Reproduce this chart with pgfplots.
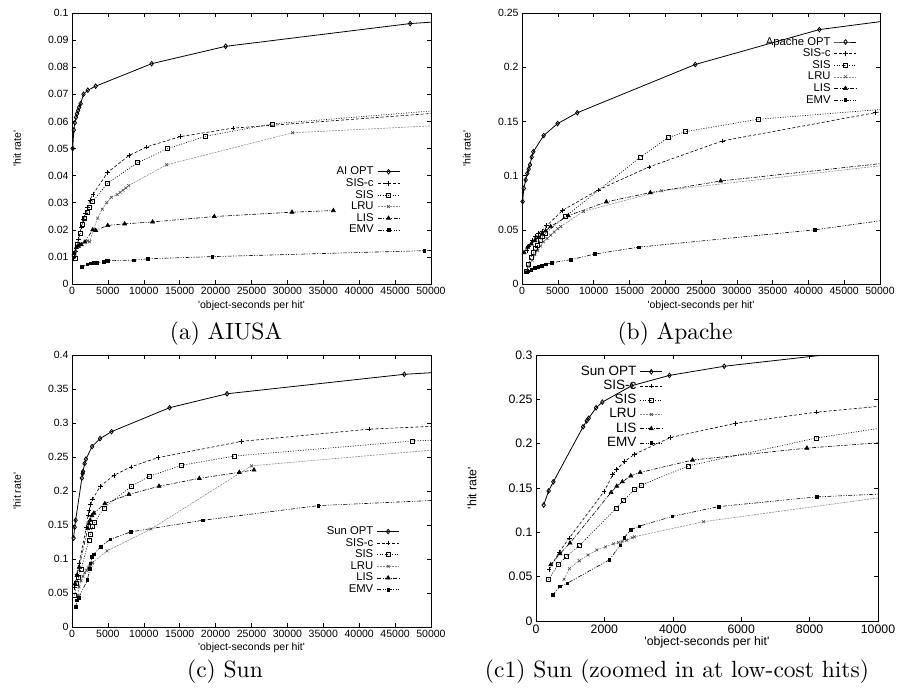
\documentclass[border=0pt]{standalone}
\usepackage{fontspec}
\setsansfont{Liberation Sans}
\newfontfamily\capfont{lmroman10-regular.otf}
\usepackage{pgfplots}
\pgfplotsset{compat=1.18}

\newcommand{\q}{\textquotesingle}

\pgfplotsset{
  gp/.style={
    scale only axis, anchor=south west,
    tick align=inside, major tick length=4pt,
    tick style={black, line width=0.5pt},
    axis line style={line width=0.8pt},
    scaled ticks=false,
    /pgf/number format/assume math mode=true,
    xticklabel={\pgfmathprintnumber[assume math mode=true, 1000 sep={}]{\tick}},
    yticklabel={\pgfmathprintnumber[assume math mode=true, fixed, precision=3]{\tick}},
    tick label style={font=\sffamily\fontsize{10.5}{12}\selectfont},
    label style={font=\sffamily\fontsize{10.5}{12}\selectfont},
    xlabel={\q object-seconds per hit\q},
    ylabel={\q hit rate\q},
    xlabel style={at={(axis description cs:0.5,-0.081)}, anchor=center},
    ylabel style={at={(axis description cs:-0.153,0.5)}, anchor=center},
    legend style={draw=none, fill=none, anchor=north east, inner sep=0pt,
      font=\sffamily\fontsize{11.3}{12}\selectfont, column sep=3pt, row sep=0.6pt,
      nodes={inner sep=0.5pt, text height=8pt, text depth=2pt}},
    legend cell align=right,
    legend plot pos=right,
    legend image code/.code={
      \draw[mark repeat=2, mark phase=2, ##1] plot coordinates {(0pt,0pt) (11pt,0pt) (22pt,0pt)};},
  },
  opt/.style={black, line width=0.8pt, mark=diamond, mark size=2.3pt, mark options={solid}},
  sisc/.style={black, line width=0.6pt, dash pattern=on 3pt off 2pt, mark=+, mark size=2.3pt, mark options={solid}},
  sis/.style={black, line width=0.6pt, dash pattern=on 1pt off 1.5pt, mark=square, mark size=2pt, mark options={solid}},
  lru/.style={black!45, line width=0.6pt, dash pattern=on 2pt off 1pt, mark=x, mark size=2pt, mark options={solid, black!70}},
  lis/.style={black, line width=0.6pt, dash pattern=on 4pt off 1.5pt on 1pt off 1.5pt, mark=triangle*, mark size=2.3pt, mark options={solid}},
  emv/.style={black, line width=0.6pt, dash pattern=on 4pt off 1.5pt on 1pt off 1.5pt on 1pt off 1.5pt, mark=square*, mark size=1.3pt, mark options={solid}},
}

\begin{document}
\begin{tikzpicture}
\useasboundingbox (0,0) rectangle (898pt,689pt);

% (a) AIUSA
\begin{axis}[gp, at={(72pt,405pt)}, width=359pt, height=271pt,
  xmin=0, xmax=50000, ymin=0, ymax=0.1,
  xtick={0,5000,10000,15000,20000,25000,30000,35000,40000,45000,50000},
  ytick={0,0.01,0.02,0.03,0.04,0.05,0.06,0.07,0.08,0.09,0.1},
  legend style={at={(0.914,0.435)}}]
\addplot[opt] table {
100 0.050
250 0.0568
400 0.0595
550 0.0615
700 0.0628
850 0.0640
1000 0.0652
1200 0.0665
1600 0.0700
2200 0.0715
3300 0.0730
11100 0.0813
21400 0.0877
47100 0.0961
55000 0.0975
};
\addplot[sisc] table {
280 0.0102
500 0.0120
900 0.0166
1300 0.0210
1600 0.0240
1900 0.0262
2200 0.0282
2500 0.0310
2900 0.0330
4970 0.0412
7940 0.0474
10400 0.0506
15090 0.0544
22400 0.0575
55000 0.0639
};
\addplot[sis] table {
460 0.0094
740 0.0145
1160 0.0188
1440 0.0222
1760 0.0243
2090 0.0264
2410 0.0283
2830 0.0304
4970 0.0372
9150 0.0448
13280 0.0499
18570 0.0545
27900 0.0591
55000 0.0649
};
\addplot[lru] table {
500 0.0120
900 0.0140
1300 0.0148
1800 0.0155
2200 0.0160
2460 0.0156
2970 0.0200
3570 0.0243
4220 0.0276
4830 0.0300
5480 0.0320
6300 0.0330
6700 0.0338
7100 0.0346
7500 0.0354
7890 0.0363
13180 0.0440
30730 0.0558
55000 0.0590
};
\addplot[lis] table {
280 0.0112
600 0.0135
900 0.0140
1300 0.0145
1800 0.0155
2880 0.0200
3300 0.0198
4970 0.0216
7330 0.0222
11230 0.0229
19820 0.0249
30640 0.0265
36400 0.0271
};
\addplot[emv] table {
1350 0.0063
2140 0.0072
2600 0.0076
3020 0.0079
3480 0.0079
4410 0.0082
4830 0.0085
5060 0.0086
8640 0.0088
10580 0.0093
19550 0.0101
49070 0.0123
55000 0.0127
};
\legend{AI OPT, SIS-c, SIS, LRU, LIS, EMV}
\end{axis}

% (b) Apache
\begin{axis}[gp, at={(522pt,405pt)}, width=358pt, height=271pt,
  xmin=0, xmax=50000, ymin=0, ymax=0.25,
  xtick={0,5000,10000,15000,20000,25000,30000,35000,40000,45000,50000},
  ytick={0,0.05,0.1,0.15,0.2,0.25},
  ylabel style={at={(axis description cs:-0.154,0.5)}},
  legend style={at={(0.936,0.914)}}]
\addplot[opt] table {
90 0.0761
250 0.0883
510 0.0960
740 0.1020
930 0.1060
1120 0.1100
1350 0.1170
1580 0.1220
3030 0.1370
4980 0.1480
7730 0.1580
24200 0.2025
41530 0.2347
55000 0.2463
};
\addplot[sisc] table {
700 0.031
900 0.035
1400 0.040
1900 0.044
2300 0.047
2800 0.049
3440 0.0537
5680 0.0680
10660 0.0868
17740 0.1080
27980 0.1320
49300 0.1580
55000 0.1640
};
\addplot[sis] table {
650 0.0117
930 0.0180
1260 0.0250
1600 0.0290
1910 0.0330
2200 0.0360
2500 0.0400
2900 0.0440
3300 0.0470
6000 0.0620
16530 0.1170
20390 0.1350
22810 0.1405
33010 0.1520
55000 0.1636
};
\addplot[lru] table {
600 0.0120
900 0.0160
1400 0.0220
1800 0.0270
2200 0.0310
2600 0.0350
3000 0.0390
3500 0.0420
4000 0.0450
4500 0.0480
5000 0.0510
5400 0.0530
8570 0.0669
19510 0.0860
55000 0.1128
};
\addplot[lis] table {
280 0.0290
800 0.0340
1300 0.0370
1800 0.0400
2300 0.0430
2800 0.0460
3300 0.0490
4000 0.0530
6470 0.0630
11780 0.0758
17920 0.0843
27750 0.0950
55000 0.1146
};
\addplot[emv] table {
650 0.0107
880 0.0117
1300 0.0130
1800 0.0150
2300 0.0160
2800 0.0170
3300 0.0180
4140 0.0196
6800 0.0224
10150 0.0276
16300 0.0340
40920 0.0500
55000 0.0629
};
\legend{Apache OPT, SIS-c, SIS, LRU, LIS, EMV}
\end{axis}

% Sun data
\pgfplotstableread{
x y
224 0.1308
370 0.1467
507 0.1570
1376 0.2190
1483 0.2257
1541 0.2287
1756 0.2404
1941 0.2469
2800 0.2654
3902 0.2770
5502 0.2873
13590 0.3225
21600 0.3430
46280 0.3716
55000 0.3770
}\sunopt
\pgfplotstableread{
x y
380 0.0578
683 0.0780
976 0.0938
1990 0.1460
2244 0.1650
2361 0.1710
2595 0.1800
2878 0.1880
3932 0.2070
5834 0.2230
8195 0.2355
11960 0.2490
23600 0.2730
41390 0.2910
55000 0.2973
}\sunsisc
\pgfplotstableread{
x y
361 0.0465
663 0.0643
888 0.0726
1268 0.0850
2341 0.1270
2556 0.1360
2878 0.1480
3093 0.1535
4459 0.1750
8200 0.2064
10750 0.2216
15220 0.2377
22670 0.2515
47440 0.2735
55000 0.2770
}\sunsis
\pgfplotstableread{
x y
820 0.0470
976 0.0590
1268 0.0680
1522 0.0745
1776 0.0800
2029 0.0836
2263 0.0870
2410 0.0885
2517 0.0896
2654 0.0910
2810 0.0940
2878 0.0950
4898 0.1120
10990 0.1440
25000 0.2370
55000 0.2646
}\sunlru
\pgfplotstableread{
x y
430 0.0635
702 0.0760
995 0.0880
2195 0.1450
2361 0.1520
2527 0.1570
2771 0.1637
3044 0.1675
4576 0.1815
7922 0.1950
12120 0.2070
17730 0.2186
23300 0.2275
25350 0.2310
}\sunlis
\pgfplotstableread{
x y
488 0.0295
702 0.0390
917 0.0427
2146 0.0690
2459 0.0854
2576 0.0938
2780 0.1030
3024 0.1070
3990 0.1180
5337 0.1290
8215 0.1400
18250 0.1570
34310 0.1785
55000 0.1884
}\sunemv

% (c) Sun
\begin{axis}[gp, at={(72pt,62pt)}, width=359pt, height=272pt,
  xmin=0, xmax=50000, ymin=0, ymax=0.4,
  xtick={0,5000,10000,15000,20000,25000,30000,35000,40000,45000,50000},
  ytick={0,0.05,0.1,0.15,0.2,0.25,0.3,0.35,0.4},
  xlabel style={at={(axis description cs:0.5,-0.077)}},
  legend style={at={(0.913,0.372)}}]
\addplot[opt] table {\sunopt};
\addplot[sisc] table {\sunsisc};
\addplot[sis] table {\sunsis};
\addplot[lru] table {\sunlru};
\addplot[lis] table {\sunlis};
\addplot[emv] table {\sunemv};
\legend{Sun OPT, SIS-c, SIS, LRU, LIS, EMV}
\end{axis}

% (c1) Sun zoomed
\begin{axis}[gp, at={(536pt,68pt)}, width=342pt, height=266pt,
  xmin=0, xmax=10000, ymin=0, ymax=0.3,
  xtick={0,2000,4000,6000,8000,10000},
  ytick={0,0.05,0.1,0.15,0.2,0.25,0.3},
  tick label style={font=\sffamily\fontsize{12.3}{14}\selectfont},
  label style={font=\sffamily\fontsize{12.3}{14}\selectfont},
  xlabel style={at={(axis description cs:0.5,-0.079)}},
  ylabel style={at={(axis description cs:-0.187,0.5)}},
  legend style={at={(0.371,0.962)}, font=\sffamily\fontsize{13.5}{14}\selectfont,
    nodes={inner sep=0.5pt, text height=9.5pt, text depth=2.5pt}, row sep=1.2pt}]
\addplot[opt] table {\sunopt};
\addplot[sisc] table {\sunsisc};
\addplot[sis] table {\sunsis};
\addplot[lru] table {\sunlru};
\addplot[lis] table {\sunlis};
\addplot[emv] table {\sunemv};
\legend{Sun OPT, SIS-c, SIS, LRU, LIS, EMV}
\end{axis}

\node[font=\capfont\fontsize{23.5}{26}\selectfont, anchor=base] at (226pt,349pt) {(a) AIUSA};
\node[font=\capfont\fontsize{23.5}{26}\selectfont, anchor=base] at (675pt,349pt) {(b) Apache};
\node[font=\capfont\fontsize{23.5}{26}\selectfont, anchor=base] at (225pt,12pt) {(c) Sun};
\node[font=\capfont\fontsize{23.5}{26}\selectfont, anchor=base] at (677pt,12pt) {(c1) Sun (zoomed in at low-cost hits)};
\end{tikzpicture}
\end{document}
